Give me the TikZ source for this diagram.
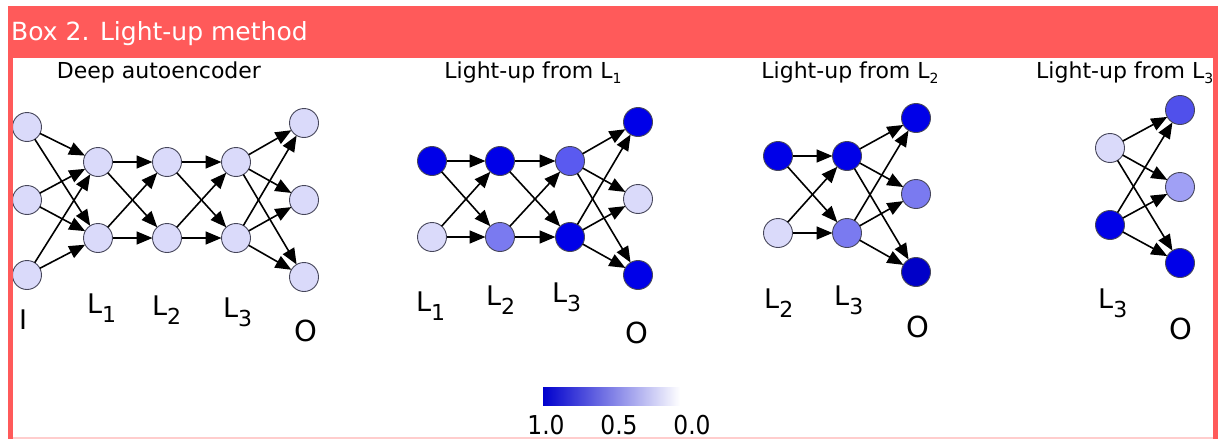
\documentclass[tikz,border=0pt]{standalone}
\usepackage{fontspec}
\setmainfont{DejaVu Sans}
\newfontfamily\narrowfont[FakeStretch=0.9]{DejaVu Sans}
\usetikzlibrary{arrows.meta}

\definecolor{boxred}{RGB}{255,90,90}
\definecolor{boxpink}{RGB}{255,205,205}
\definecolor{ndraw}{RGB}{70,70,90}
\definecolor{cpale}{RGB}{218,218,250}
\definecolor{cfull}{RGB}{0,0,232}
\definecolor{cdeep}{RGB}{0,0,200}
\definecolor{cmidA}{RGB}{90,90,240}
\definecolor{cmidB}{RGB}{122,122,240}
\definecolor{cmidC}{RGB}{80,80,235}
\definecolor{cmidD}{RGB}{160,160,245}
\definecolor{cbar}{RGB}{0,0,205}

\newcommand{\layerlab}[1]{\fontsize{27}{27}\selectfont L\raisebox{-9pt}{\fontsize{22}{22}\selectfont #1}}
\newcommand{\lightlab}[1]{Light-up from L\raisebox{-5pt}{\fontsize{14}{14}\selectfont #1}}

\begin{document}
\begin{tikzpicture}[x=1pt, y=-1pt,
  neuron/.style={circle, draw=ndraw, line width=0.9pt, minimum size=29pt, inner sep=0pt, outer sep=0pt},
  link/.style={line width=1.6pt, -{Triangle[length=16pt,width=13pt]}},
  paneltitle/.style={anchor=base, inner sep=0pt, font=\fontsize{22}{22}\selectfont},
  layer/.style={anchor=base west, inner sep=0pt},
  outlab/.style={inner sep=0pt, font=\fontsize{29}{29}\selectfont}]
\useasboundingbox (0,0) rectangle (1218,439);
\clip (0,0) rectangle (1218,439);

% header band
\fill[boxred] (8,6) rectangle (1218,58);
\node[anchor=base west, inner sep=0pt, text=white, font=\fontsize{25}{25}\selectfont] (head) at (11,40) {Box 2. Light-up method};

% deep autoencoder
\node[paneltitle] (t0) at (159,78) {Deep autoencoder};
\node[neuron, fill=cpale] (i1) at (27,127) {};
\node[neuron, fill=cpale] (i2) at (27,200) {};
\node[neuron, fill=cpale] (i3) at (27,275) {};
\node[neuron, fill=cpale] (a1) at (98,162) {};
\node[neuron, fill=cpale] (a2) at (98,238) {};
\node[neuron, fill=cpale] (b1) at (167,162) {};
\node[neuron, fill=cpale] (b2) at (167,238) {};
\node[neuron, fill=cpale] (c1) at (236,162) {};
\node[neuron, fill=cpale] (c2) at (236,238) {};
\node[neuron, fill=cpale] (o1) at (304,123) {};
\node[neuron, fill=cpale] (o2) at (304,200) {};
\node[neuron, fill=cpale] (o3) at (304,277) {};
\path[link] (i1) edge (a1) edge (a2);
\path[link] (i2) edge (a1) edge (a2);
\path[link] (i3) edge (a1) edge (a2);
\path[link] (a1) edge (b1) edge (b2);
\path[link] (a2) edge (b1) edge (b2);
\path[link] (b1) edge (c1) edge (c2);
\path[link] (b2) edge (c1) edge (c2);
\path[link] (c1) edge (o1) edge (o2) edge (o3);
\path[link] (c2) edge (o1) edge (o2) edge (o3);
\node[layer, font=\fontsize{27}{27}\selectfont] (li) at (19,329) {I};
\node[layer] (la1) at (87,313) {\layerlab{1}};
\node[layer] (la2) at (152,315) {\layerlab{2}};
\node[layer] (la3) at (223,317) {\layerlab{3}};
\node[outlab] (lo0) at (306,331) {O};

% light-up from L1
\node[paneltitle] (t1) at (533,78) {\lightlab{1}};
\node[neuron, fill=cfull] (p1) at (432,161) {};
\node[neuron, fill=cpale] (p2) at (432,237) {};
\node[neuron, fill=cfull] (q1) at (500,161) {};
\node[neuron, fill=cmidB] (q2) at (500,237) {};
\node[neuron, fill=cmidA] (r1) at (570,161) {};
\node[neuron, fill=cfull] (r2) at (570,237) {};
\node[neuron, fill=cfull] (s1) at (638,122) {};
\node[neuron, fill=cpale] (s2) at (638,199) {};
\node[neuron, fill=cfull] (s3) at (638,275) {};
\path[link] (p1) edge (q1) edge (q2);
\path[link] (p2) edge (q1) edge (q2);
\path[link] (q1) edge (r1) edge (r2);
\path[link] (q2) edge (r1) edge (r2);
\path[link] (r1) edge (s1) edge (s2) edge (s3);
\path[link] (r2) edge (s1) edge (s2) edge (s3);
\node[layer] (lp1) at (416,311) {\layerlab{1}};
\node[layer] (lp2) at (486,305) {\layerlab{2}};
\node[layer] (lp3) at (552,302) {\layerlab{3}};
\node[outlab] (lo1) at (637,333) {O};

% light-up from L2
\node[paneltitle] (t2) at (850,78) {\lightlab{2}};
\node[neuron, fill=cfull] (u1) at (778,156) {};
\node[neuron, fill=cpale] (u2) at (778,233) {};
\node[neuron, fill=cfull] (v1) at (847,156) {};
\node[neuron, fill=cmidB] (v2) at (847,233) {};
\node[neuron, fill=cfull] (w1) at (916,118) {};
\node[neuron, fill=cmidB] (w2) at (916,194) {};
\node[neuron, fill=cdeep] (w3) at (916,272) {};
\path[link] (u1) edge (v1) edge (v2);
\path[link] (u2) edge (v1) edge (v2);
\path[link] (v1) edge (w1) edge (w2) edge (w3);
\path[link] (v2) edge (w1) edge (w2) edge (w3);
\node[layer] (lu2) at (764,308) {\layerlab{2}};
\node[layer] (lu3) at (834,305) {\layerlab{3}};
\node[outlab] (lo2) at (918,327) {O};

% light-up from L3
\node[paneltitle, anchor=base west] (t3) at (1036,78) {\lightlab{3}};
\node[neuron, fill=cpale] (x1) at (1110,148) {};
\node[neuron, fill=cfull] (x2) at (1110,225) {};
\node[neuron, fill=cmidC] (y1) at (1180,110) {};
\node[neuron, fill=cmidD] (y2) at (1180,187) {};
\node[neuron, fill=cfull] (y3) at (1180,263) {};
\path[link] (x1) edge (y1) edge (y2) edge (y3);
\path[link] (x2) edge (y1) edge (y2) edge (y3);
\node[layer] (lx3) at (1098,308) {\layerlab{3}};
\node[outlab] (lo3) at (1181,329) {O};

% colour bar
\shade[left color=cbar, right color=white] (543,387) rectangle (680,405);
\node[anchor=base, inner sep=0pt, font=\narrowfont\fontsize{26}{26}\selectfont] (cb1) at (546,434) {1.0};
\node[anchor=base, inner sep=0pt, font=\narrowfont\fontsize{26}{26}\selectfont] (cb2) at (619,434) {0.5};
\node[anchor=base, inner sep=0pt, font=\narrowfont\fontsize{26}{26}\selectfont] (cb3) at (692,434) {0.0};

% frame
\fill[boxred] (8,58) rectangle (13,439);
\fill[boxred] (1213,58) rectangle (1218,439);
\fill[boxpink] (13,437) rectangle (1213,439);
\end{tikzpicture}
\end{document}
